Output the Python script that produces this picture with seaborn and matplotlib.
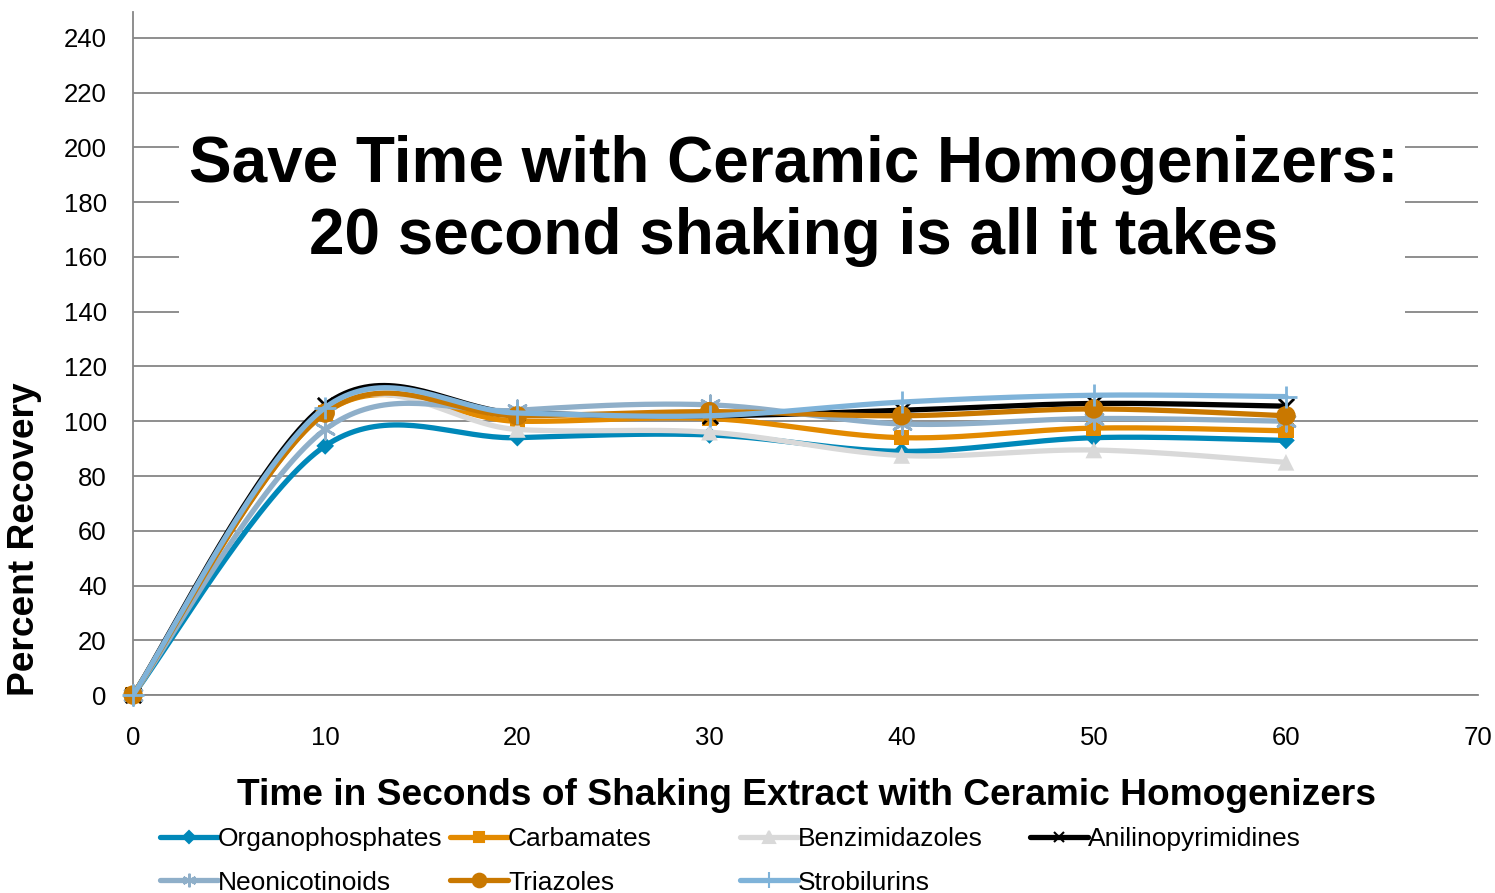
import numpy as np
import pandas as pd
import matplotlib
matplotlib.use("Agg")
import matplotlib.pyplot as plt
from matplotlib.lines import Line2D
from matplotlib.patches import Rectangle
import seaborn as sns

# ---- data ----
seconds = [0, 10, 20, 30, 40, 50, 60]

organophosphates = [0, 91, 94, 95, 89, 94, 93]
carbamates = [0, 103, 100, 101, 94, 97.5, 96.5]
benzimidazoles = [0, 104, 97, 96, 87.5, 89.5, 85]
anilinopyrimidines = [0, 106, 103, 102, 104, 106.5, 105.5]
neonicotinoids = [0, 97, 104, 106, 99, 101, 100]
triazoles = [0, 103, 102, 103.5, 102, 104.5, 102]
strobilurins = [0, 105, 103, 102, 107, 109.5, 109]

names = ["Organophosphates", "Carbamates", "Benzimidazoles", "Anilinopyrimidines",
         "Neonicotinoids", "Triazoles", "Strobilurins"]
series = [organophosphates, carbamates, benzimidazoles, anilinopyrimidines,
          neonicotinoids, triazoles, strobilurins]
colors = ["#0088B9", "#E38A00", "#D9D9D9", "#000000", "#8FAFC9", "#C97800", "#7FB3D9"]
markers = ["D", "s", "^", "x", (6, 2, 0), "o", "+"]
msizes = [9, 11, 12, 11, 14, 14, 16]

yticks = list(range(0, 241, 20))
xticks = list(range(0, 71, 10))


def smooth(x, y, n=40):
    # Excel-style smoothed line (bezier with catmull-rom control points)
    p = np.column_stack([x, y]).astype(float)
    out = [p[0]]
    for i in range(len(p) - 1):
        p0 = p[i - 1] if i > 0 else p[i]
        p3 = p[i + 2] if i + 2 < len(p) else p[i + 1]
        c1 = p[i] + (p[i + 1] - p0) / 6
        c2 = p[i + 1] - (p3 - p[i]) / 6
        t = np.linspace(0, 1, n)[1:, None]
        b = ((1 - t) ** 3) * p[i] + 3 * ((1 - t) ** 2) * t * c1 \
            + 3 * (1 - t) * t ** 2 * c2 + t ** 3 * p[i + 1]
        out.extend(b)
    out = np.array(out)
    return out[:, 0], out[:, 1]


sns.set_style("white")
plt.rcParams["font.family"] = ["Liberation Sans", "DejaVu Sans"]
plt.rcParams["text.color"] = "black"
plt.rcParams["axes.labelcolor"] = "black"

fig = plt.figure(figsize=(14.95, 8.93), dpi=100)
ax = fig.add_axes([0.089, 0.2217, 0.8997, 0.7649])

for name, vals, c, m, ms in zip(names, series, colors, markers, msizes):
    sx, sy = smooth(seconds, vals)
    curve = pd.DataFrame({"x": sx, "y": sy})
    sns.lineplot(data=curve, x="x", y="y", sort=False, estimator=None, color=c,
                 linewidth=3.8, ax=ax, zorder=3)
    pts = pd.DataFrame({"x": seconds, "y": vals})
    mk = dict(marker=m, s=ms ** 2, color=c, ax=ax, zorder=3, linewidth=2, clip_on=False)
    if m in ("x", "+") or isinstance(m, tuple):
        mk["edgecolor"] = c
    else:
        mk["edgecolor"] = "none"
    sns.scatterplot(data=pts, x="x", y="y", **mk)

ax.set_xlim(0, 70)
ax.set_ylim(0, 249.5)
ax.set_xticks(xticks)
ax.set_yticks(yticks)
ax.tick_params(axis="both", labelsize=18.5, colors="black")
ax.tick_params(axis="x", direction="out", length=7, color="#868686", width=1.3, pad=15)
ax.tick_params(axis="y", direction="out", length=0, pad=19)
ax.yaxis.grid(True, color="#868686", linewidth=1.3)
ax.set_axisbelow(True)
for s in ["top", "right"]:
    ax.spines[s].set_visible(False)
for s in ["left", "bottom"]:
    ax.spines[s].set_color("#868686")
    ax.spines[s].set_linewidth(1.3)

ax.set_xlabel("Time in Seconds of Shaking Extract with Ceramic Homogenizers",
              fontsize=26.7, fontweight="bold")
ax.set_ylabel("Percent Recovery", fontsize=26.7, fontweight="bold")
ax.xaxis.set_label_coords(0.5004, -0.121)
ax.yaxis.set_label_coords(-0.068, 0.228)

ax.add_patch(Rectangle((2.4, 132), 63.8, 84, facecolor="white", edgecolor="none", zorder=1.5))
ax.text(34.4, 180.5, "Save Time with Ceramic Homogenizers:\n20 second shaking is all it takes",
        ha="center", va="center", fontsize=46, fontweight="bold", linespacing=1.25, zorder=2)

# legend laid out in fixed columns like the original
handles = [Line2D([0], [0], color=c, linewidth=3.8, marker=m, markersize=ms * 0.7,
                  markeredgecolor=c, markeredgewidth=1.5)
           for c, m, ms in zip(colors, markers, msizes)]
cols = [[0, 4], [1, 5], [2, 6], [3]]
col_x = [0.107, 0.301, 0.495, 0.689]
for idx, xpos in zip(cols, col_x):
    fig.legend([handles[i] for i in idx], [names[i] for i in idx], loc="upper left",
               bbox_to_anchor=(xpos, 0.074), frameon=False, fontsize=19,
               handlelength=2.2, handletextpad=0.0, labelspacing=0.75, borderpad=0,
               borderaxespad=0)

fig.savefig("out.png", dpi=100)
